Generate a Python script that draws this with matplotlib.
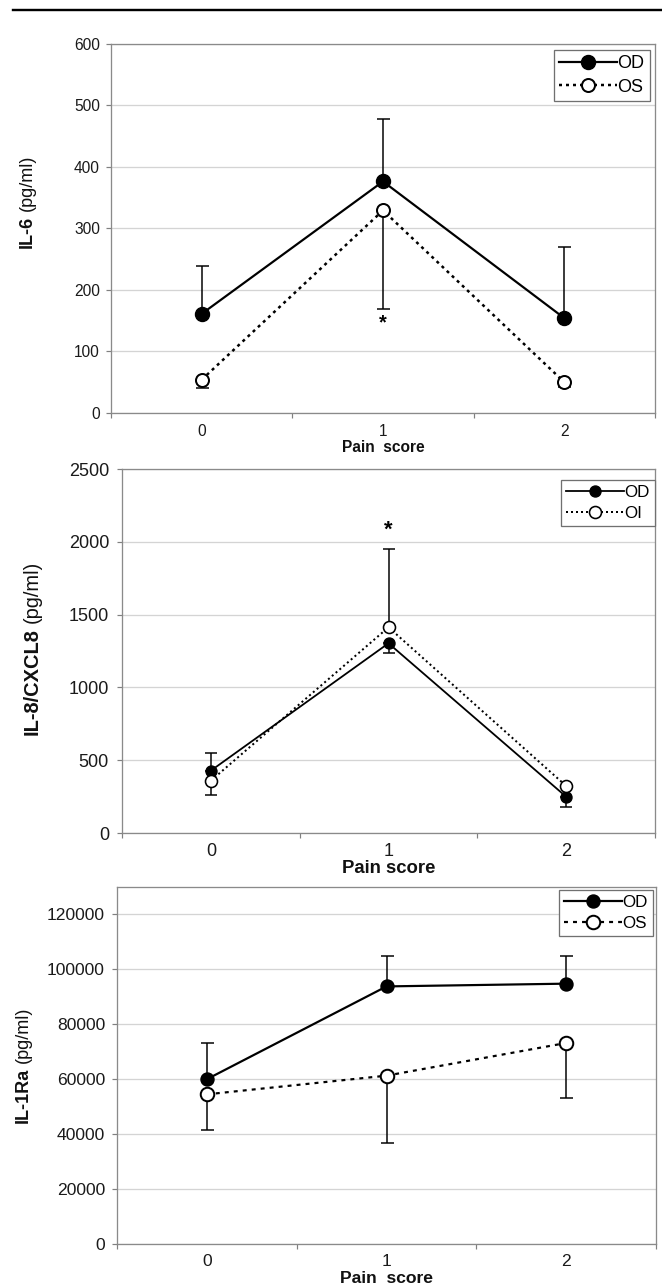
import matplotlib
matplotlib.use('Agg')
import matplotlib.pyplot as plt
from matplotlib.lines import Line2D

plt.rcParams['font.family'] = ['Liberation Sans', 'DejaVu Sans']

W, H = 662, 1287
PT = 0.72  # points per pixel at dpi=100

# ---------------- data ----------------
pain_scores = [0, 1, 2]
pain_labels = ['0', '1', '2']

# Panel 1: IL-6
il6_od = [161, 376, 154]
il6_od_lo = [0, 0, 0]
il6_od_hi = [77, 102, 115]
il6_os = [54, 329, 50]
il6_os_lo = [13, 160, 8]
il6_os_hi = [0, 0, 0]
il6_yticks = [0, 100, 200, 300, 400, 500, 600]
il6_ylim = [0, 600]
il6_star = [1, 146]

# Panel 2: IL-8/CXCL8
il8_od = [428, 1303, 249]
il8_od_lo = [0, 65, 68]
il8_od_hi = [123, 0, 0]
il8_oi = [359, 1413, 323]
il8_oi_lo = [98, 0, 0]
il8_oi_hi = [0, 536, 0]
il8_yticks = [0, 500, 1000, 1500, 2000, 2500]
il8_ylim = [0, 2500]
il8_star = [1, 2080]

# Panel 3: IL-1Ra
il1ra_od = [60000, 93800, 94800]
il1ra_od_lo = [0, 0, 0]
il1ra_od_hi = [13200, 10900, 9900]
il1ra_os = [54500, 61300, 73200]
il1ra_os_lo = [13050, 24700, 20000]
il1ra_os_hi = [0, 0, 0]
il1ra_yticks = [0, 20000, 40000, 60000, 80000, 100000, 120000]
il1ra_ylim = [0, 130000]

# ---------------- figure ----------------
fig = plt.figure(figsize=(W / 100, H / 100), dpi=100)


def rect(l, r, t, b):
    return [l / W, 1 - b / H, (r - l) / W, (b - t) / H]


def draw_panel(ax, box, y1, lo1, hi1, lab1, y2, lo2, hi2, lab2, ylim, yticks, st):
    l, r, t, b = box
    ax.set_xlim(-0.5, 2.5)
    ax.set_ylim(*ylim)
    ax.set_yticks(yticks)
    ax.set_xticks([-0.5, 0.5, 1.5, 2.5])
    ax.set_xticklabels([])
    ax.set_xticks(pain_scores, minor=True)
    ax.set_xticklabels(pain_labels, minor=True)
    ax.tick_params(axis='x', which='minor', length=0, pad=st['xpad'] * PT,
                   labelsize=st['tick'] * PT, labelcolor='#1a1a1a')
    ax.tick_params(axis='x', which='major', length=5 * PT, width=1.2 * PT,
                   color='#808080', direction='out')
    ax.tick_params(axis='y', length=5 * PT, width=1.2 * PT, color='#808080',
                   direction='out', pad=st['ypad'] * PT, labelsize=st['tick'] * PT,
                   labelcolor='#1a1a1a')
    ax.grid(axis='y', color='#d4d4d4', lw=1.3 * PT)
    ax.set_axisbelow(True)
    for sp in ax.spines.values():
        sp.set_color('#8a8a8a')
        sp.set_linewidth(1.3 * PT)

    ax.errorbar(pain_scores, y1, yerr=[lo1, hi1], fmt='none', ecolor='black',
                elinewidth=1.5 * PT, capsize=st['cap'] * PT, capthick=1.5 * PT, zorder=2)
    ax.errorbar(pain_scores, y2, yerr=[lo2, hi2], fmt='none', ecolor='black',
                elinewidth=1.5 * PT, capsize=st['cap'] * PT, capthick=1.5 * PT, zorder=2)
    h1, = ax.plot(pain_scores, y1, color='black', lw=st['lw1'] * PT, marker='o',
                  ms=st['ms1'] * PT, mfc='black', mec='black', label=lab1, zorder=3)
    h2, = ax.plot(pain_scores, y2, color='black', lw=st['lw2'] * PT,
                  linestyle=(0, st['dash']), marker='o', ms=st['ms2'] * PT,
                  mfc='white', mec='black', mew=st['mew'] * PT, label=lab2, zorder=4)

    leg_x, leg_y = st['leg']
    leg = ax.legend(handles=[h1, h2], loc='upper right',
                    bbox_to_anchor=((leg_x - l) / (r - l), (b - leg_y) / (b - t)),
                    borderaxespad=0, frameon=True, fancybox=False, framealpha=1,
                    edgecolor='#707070', fontsize=st['legfs'] * PT,
                    handlelength=st['hl'], handletextpad=0.05, borderpad=0.3,
                    labelspacing=0.35, numpoints=1)
    leg.get_frame().set_linewidth(1.3 * PT)

    ax.set_xlabel(st['xlabel'], fontsize=st['xlfs'] * PT, fontweight='bold',
                  color='#111111')
    ax.xaxis.set_label_coords(0.5, (b - st['xl_base']) / (b - t))
    ax.xaxis.label.set_verticalalignment('baseline')


def two_part_ylabel(x_px, y_start_px, bold_part, normal_part, size_px):
    fs = size_px * PT
    t1 = fig.text(x_px / W, 1 - y_start_px / H, bold_part, rotation=90,
                  rotation_mode='anchor', ha='left', va='center', fontsize=fs,
                  fontweight='bold', color='#111111')
    fig.canvas.draw()
    ext = t1.get_window_extent(fig.canvas.get_renderer())
    gap = 0.28 * size_px
    fig.text(x_px / W, 1 - (y_start_px - ext.height - gap) / H, normal_part,
             rotation=90, rotation_mode='anchor', ha='left', va='center',
             fontsize=fs, color='#111111')


# panel 1
box1 = (111, 655, 43.5, 413)
ax1 = fig.add_axes(rect(*box1))
st1 = dict(tick=15.5, xpad=10.5, ypad=6, cap=6.5, lw1=2.2, lw2=2.5, dash=(1.2, 1.6),
           ms1=14, ms2=13, mew=2.0, leg=(650, 50), legfs=18, hl=3.2,
           xlabel='Pain  score', xlfs=15.5, xl_base=452)
draw_panel(ax1, box1, il6_od, il6_od_lo, il6_od_hi, 'OD',
           il6_os, il6_os_lo, il6_os_hi, 'OS', il6_ylim, il6_yticks, st1)
ax1.text(il6_star[0], il6_star[1], '*', ha='center', va='center',
         fontsize=20 * PT, fontweight='bold')

# panel 2
box2 = (122, 655, 469, 833)
ax2 = fig.add_axes(rect(*box2))
st2 = dict(tick=18, xpad=9.5, ypad=8, cap=6.3, lw1=1.8, lw2=2.0, dash=(1.0, 1.5),
           ms1=11, ms2=12, mew=1.6, leg=(655, 480), legfs=17, hl=3.4,
           xlabel='Pain score', xlfs=18.5, xl_base=873)
draw_panel(ax2, box2, il8_od, il8_od_lo, il8_od_hi, 'OD',
           il8_oi, il8_oi_lo, il8_oi_hi, 'OI', il8_ylim, il8_yticks, st2)
ax2.text(il8_star[0], il8_star[1], '*', ha='center', va='center',
         fontsize=22 * PT, fontweight='bold')

# panel 3
box3 = (117, 656, 887, 1244)
ax3 = fig.add_axes(rect(*box3))
st3 = dict(tick=17.5, xpad=9.5, ypad=7, cap=6.5, lw1=2.2, lw2=2.2, dash=(1.8, 2.3),
           ms1=13, ms2=13.5, mew=2.0, leg=(653, 890), legfs=17, hl=3.4,
           xlabel='Pain  score', xlfs=17.5, xl_base=1283)
draw_panel(ax3, box3, il1ra_od, il1ra_od_lo, il1ra_od_hi, 'OD',
           il1ra_os, il1ra_os_lo, il1ra_os_hi, 'OS', il1ra_ylim, il1ra_yticks, st3)

# top rule
fig.add_artist(Line2D([13 / W, 1.0], [1 - 9.5 / H, 1 - 9.5 / H], color='black',
                      lw=2.4 * PT, transform=fig.transFigure))

# y labels
two_part_ylabel(27, 248, 'IL-6', '(pg/ml)', 18)
two_part_ylabel(32, 735, 'IL-8/CXCL8', '(pg/ml)', 20)
two_part_ylabel(23, 1123, 'IL-1Ra', '(pg/ml)', 18)

fig.savefig('out.png', dpi=100)
